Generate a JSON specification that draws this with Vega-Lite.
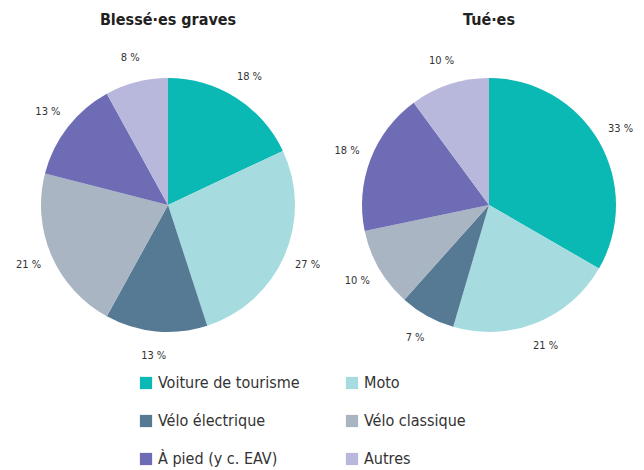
{
  "$schema": "https://vega.github.io/schema/vega-lite/v6.json",
  "padding": {"left": 15, "top": 12, "right": 0, "bottom": 0},
  "background": "white",
  "datasets": {
    "blesses": [
      {"idx": 1, "categorie": "Voiture de tourisme", "part": 18, "label": "18 %"},
      {"idx": 2, "categorie": "Moto", "part": 27, "label": "27 %"},
      {"idx": 3, "categorie": "Vélo électrique", "part": 13, "label": "13 %"},
      {"idx": 4, "categorie": "Vélo classique", "part": 21, "label": "21 %"},
      {"idx": 5, "categorie": "À pied (y c. EAV)", "part": 13, "label": "13 %"},
      {"idx": 6, "categorie": "Autres", "part": 8, "label": "8 %"}
    ],
    "tues": [
      {"idx": 1, "categorie": "Voiture de tourisme", "part": 33, "label": "33 %"},
      {"idx": 2, "categorie": "Moto", "part": 21, "label": "21 %"},
      {"idx": 3, "categorie": "Vélo électrique", "part": 7, "label": "7 %"},
      {"idx": 4, "categorie": "Vélo classique", "part": 10, "label": "10 %"},
      {"idx": 5, "categorie": "À pied (y c. EAV)", "part": 18, "label": "18 %"},
      {"idx": 6, "categorie": "Autres", "part": 10, "label": "10 %"}
    ]
  },
  "config": {
    "view": {"stroke": null},
    "font": "DejaVu Sans Condensed",
    "concat": {"spacing": 13},
    "title": {"font": "DejaVu Sans Condensed", "fontSize": 16, "fontWeight": "bold", "color": "#222222", "anchor": "middle", "offset": 17},
    "legend": {
      "orient": "none",
      "legendX": 120,
      "legendY": 330,
      "columns": 2,
      "direction": "horizontal",
      "columnPadding": 44,
      "rowPadding": 22,
      "symbolType": "square",
      "symbolSize": 150,
      "symbolStrokeWidth": 0,
      "symbolOpacity": 1,
      "labelFontSize": 16,
      "labelColor": "#333333",
      "labelFont": "DejaVu Sans Condensed",
      "labelLimit": 300,
      "title": null
    }
  },
  "hconcat": [
    {
      "title": "Blessé·es graves",
      "width": 300,
      "height": 320,
      "data": {"name": "blesses"},
      "encoding": {
        "theta": {"field": "part", "type": "quantitative", "stack": true},
        "order": {"field": "idx", "type": "quantitative"}
      },
      "layer": [
        {
          "mark": {"type": "arc", "outerRadius": 127},
          "encoding": {
            "color": {
              "field": "categorie",
              "type": "nominal",
              "title": null,
              "scale": {
                "domain": ["Voiture de tourisme", "Moto", "Vélo électrique", "Vélo classique", "À pied (y c. EAV)", "Autres"],
                "range": ["#0ab8b4", "#a6dcdf", "#577a94", "#a9b5c2", "#6e6cb5", "#b8b8dc"]
              }
            }
          }
        },
        {
          "mark": {"type": "text", "radius": 152, "fontSize": 11, "color": "#333333"},
          "encoding": {"text": {"field": "label"}}
        }
      ]
    },
    {
      "title": "Tué·es",
      "width": 300,
      "height": 320,
      "data": {"name": "tues"},
      "encoding": {
        "theta": {"field": "part", "type": "quantitative", "stack": true},
        "order": {"field": "idx", "type": "quantitative"}
      },
      "layer": [
        {
          "mark": {"type": "arc", "outerRadius": 127},
          "encoding": {
            "color": {
              "field": "categorie",
              "type": "nominal",
              "title": null,
              "scale": {
                "domain": ["Voiture de tourisme", "Moto", "Vélo électrique", "Vélo classique", "À pied (y c. EAV)", "Autres"],
                "range": ["#0ab8b4", "#a6dcdf", "#577a94", "#a9b5c2", "#6e6cb5", "#b8b8dc"]
              }
            }
          }
        },
        {
          "mark": {"type": "text", "radius": 152, "fontSize": 11, "color": "#333333"},
          "encoding": {"text": {"field": "label"}}
        }
      ]
    }
  ]
}
